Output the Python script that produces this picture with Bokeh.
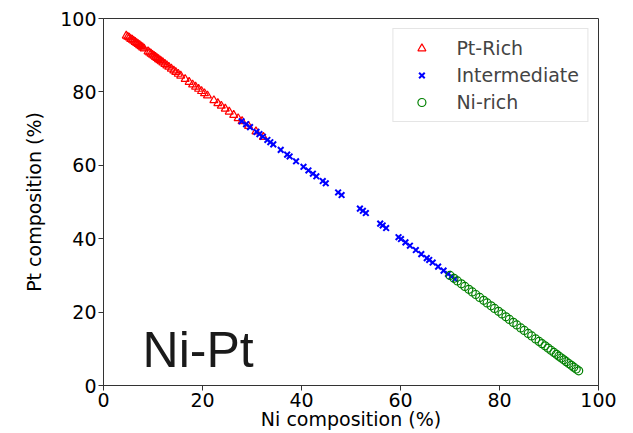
from bokeh.plotting import figure
from bokeh.models import Range1d, Legend, LegendItem, Label, FixedTicker
from bokeh.embed import file_html
from bokeh.resources import INLINE

# Pt-rich
x_pt = [4.6, 4.9, 5.2, 5.5, 5.8, 6.1, 6.4, 6.7, 7.0, 7.3, 7.6, 7.9, 8.2, 9.0, 9.3, 9.6,
        9.9, 10.2, 10.5, 10.8, 11.1, 11.4, 11.7, 12.0, 12.4, 12.8, 13.2, 13.7, 14.2,
        14.6, 15.1, 15.6, 16.5, 17.3, 18.0, 18.6, 19.2, 19.8, 20.4, 21.0, 22.3, 23.1,
        23.8, 24.6, 25.4, 26.3, 27.2, 28.0, 29.3, 30.8, 32.3]
y_pt = [95.3, 95.0, 94.8, 94.4, 94.2, 93.9, 93.6, 93.3, 93.0, 92.7, 92.4, 92.1, 91.8,
        91.0, 90.7, 90.4, 90.1, 89.8, 89.5, 89.2, 88.9, 88.6, 88.3, 88.0, 87.6, 87.2,
        86.8, 86.3, 85.8, 85.4, 84.9, 84.4, 83.5, 82.7, 82.0, 81.4, 80.8, 80.2, 79.6,
        79.0, 77.7, 76.9, 76.2, 75.4, 74.6, 73.7, 72.8, 72.0, 70.7, 69.2, 67.7]

# Intermediate
x_int = [27.9, 28.8, 29.6, 30.9, 31.5, 32.2, 33.1, 33.7, 34.3, 35.8, 37.1, 37.6, 38.9,
         40.4, 41.4, 42.3, 43.0, 44.3, 44.9, 47.4, 48.1, 51.8, 52.4, 53.0, 55.9, 56.4,
         57.1, 59.6, 60.1, 61.0, 61.9, 63.1, 64.2, 65.3, 65.8, 66.5, 67.6, 68.7, 69.6,
         70.3, 71.0]
y_int = [72.0, 71.2, 70.4, 69.1, 68.5, 67.8, 66.9, 66.3, 65.7, 64.2, 62.9, 62.4, 61.1,
         59.6, 58.6, 57.7, 57.0, 55.7, 55.1, 52.6, 51.9, 48.2, 47.6, 47.0, 44.1, 43.6,
         42.9, 40.4, 39.9, 39.0, 38.1, 36.9, 35.8, 34.7, 34.2, 33.5, 32.4, 31.3, 30.4,
         29.7, 29.0]

# Ni-rich
x_ni = [70.0, 70.8, 71.5, 72.3, 73.0, 73.8, 74.5, 75.2, 76.0, 76.8, 77.5, 78.3, 79.0,
        79.8, 80.5, 81.3, 82.0, 82.8, 83.5, 84.3, 85.0, 85.8, 86.5, 87.3, 88.0, 88.6,
        89.2, 89.8, 90.4, 91.0, 91.5, 92.0, 92.5, 93.0, 93.5, 94.0, 94.5, 95.0, 95.5,
        96.0]
y_ni = [30.0, 29.2, 28.5, 27.7, 27.0, 26.2, 25.5, 24.8, 24.0, 23.2, 22.5, 21.7, 21.0,
        20.2, 19.5, 18.7, 18.0, 17.2, 16.5, 15.7, 15.0, 14.2, 13.5, 12.7, 12.0, 11.4,
        10.8, 10.2, 9.6, 9.0, 8.5, 8.0, 7.5, 7.0, 6.5, 6.0, 5.5, 5.0, 4.5, 4.0]

ticks = [0, 20, 40, 60, 80, 100]
labels = ["Pt-Rich", "Intermediate", "Ni-rich"]

p = figure(width=633, height=433, output_backend="svg", toolbar_location=None,
           x_range=Range1d(0, 100), y_range=Range1d(0, 100),
           min_border_left=103, min_border_right=35, min_border_top=18, min_border_bottom=48)

r1 = p.scatter(x_pt, y_pt, marker="triangle", size=8, fill_color=None, line_color="red", line_width=1.2)
r2 = p.scatter(x_int, y_int, marker="x", size=8, line_color="blue", line_width=2)
r3 = p.scatter(x_ni, y_ni, marker="circle", size=8, fill_color=None, line_color="green", line_width=1.2)

p.grid.visible = False
p.outline_line_color = "#333333"
for ax in (p.xaxis[0], p.yaxis[0]):
    ax.ticker = FixedTicker(ticks=ticks)
    ax.minor_tick_line_color = None
    ax.major_tick_out = 5
    ax.major_tick_in = 0
    ax.axis_line_color = "#333333"
    ax.major_tick_line_color = "#333333"
    ax.major_label_text_font = "DejaVu Sans"
    ax.major_label_text_font_size = "19px"
    ax.major_label_text_color = "black"
    ax.axis_label_text_font = "DejaVu Sans"
    ax.axis_label_text_font_size = "19px"
    ax.axis_label_text_font_style = "normal"
    ax.axis_label_text_color = "black"
    ax.major_label_standoff = 2

p.xaxis.axis_label = "Ni composition (%)"
p.yaxis.axis_label = "Pt composition (%)"
p.xaxis.axis_label_standoff = -2
p.yaxis.axis_label_standoff = 12

p.add_layout(Label(x=7.9, y=9.8, text="Ni-Pt", text_font="Liberation Sans",
                   text_font_size="50px", text_color="#1a1a1a", text_baseline="alphabetic"))

legend = Legend(items=[LegendItem(label=labels[0], renderers=[r1]),
                       LegendItem(label=labels[1], renderers=[r2]),
                       LegendItem(label=labels[2], renderers=[r3])],
                location="top_right")
legend.label_text_font = "DejaVu Sans"
legend.label_text_font_size = "19px"
legend.border_line_color = "#cccccc"
legend.border_line_width = 1
legend.background_fill_alpha = 0.8
legend.glyph_width = 40
legend.label_standoff = 15
legend.spacing = 5
legend.padding = 8
legend.margin = 10
p.add_layout(legend)

open("out.html", "w").write(file_html(p, INLINE))
